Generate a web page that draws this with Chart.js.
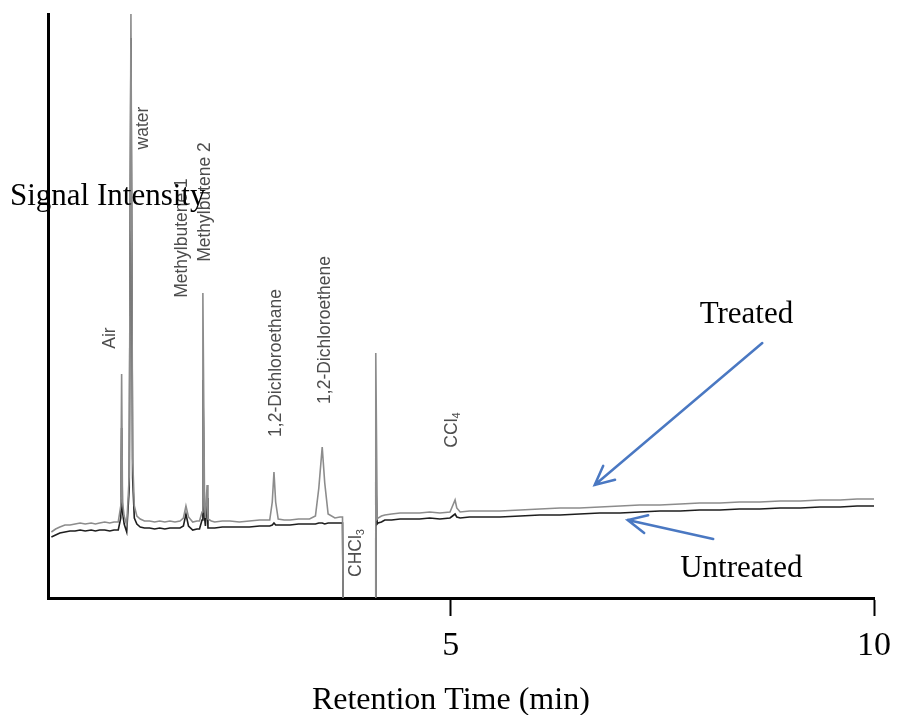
<!DOCTYPE html>
<html>
<head>
<meta charset="utf-8">
<title>Chromatogram</title>
<script src="https://cdn.jsdelivr.net/npm/chart.js"></script>
<style>
  html, body { margin: 0; padding: 0; background: #fff; }
  canvas { display: block; }
</style>
</head>
<body>
<canvas id="chart" width="897" height="715"></canvas>
<script>
// retention time (min), shared by both traces
const retentionTime = [
  0.28, 0.33, 0.38, 0.44, 0.50, 0.56, 0.62, 0.68, 0.75, 0.80,
  0.85, 0.91, 0.97, 1.02, 1.07, 1.10, 1.11, 1.12, 1.14, 1.17,
  1.20, 1.22, 1.24, 1.26, 1.29, 1.33, 1.38, 1.44, 1.50, 1.56,
  1.62, 1.68, 1.74, 1.80, 1.84, 1.87, 1.90, 1.95, 2.00, 2.03,
  2.06, 2.07, 2.09, 2.10, 2.12, 2.13, 2.17, 2.21, 2.30, 2.39,
  2.50, 2.62, 2.74, 2.86, 2.89, 2.91, 2.93, 2.96, 3.03, 3.10,
  3.20, 3.33, 3.40, 3.44, 3.48, 3.51, 3.55, 3.63, 3.69, 3.72,
  3.73, 4.11, 4.113, 4.13, 4.14, 4.18, 4.22, 4.30, 4.40, 4.50,
  4.63, 4.75, 4.87, 4.99, 5.02, 5.05, 5.07, 5.11, 5.22, 5.34,
  5.58, 5.82, 6.05, 6.29, 6.52, 6.76, 7.00, 7.23, 7.47, 7.71,
  7.94, 8.18, 8.41, 8.65, 8.89, 9.13, 9.36, 9.60, 9.80, 10.0
];

// signal (arbitrary units), grey trace
const treatedSignal = [
  66, 69, 71, 73, 73, 74, 75, 74, 75, 74,
  75, 76, 75, 76, 76, 92, 224, 96, 82, 73,
  122, 584, 140, 92, 82, 79, 77, 77, 76, 77,
  76, 77, 76, 77, 80, 92, 81, 76, 77, 77,
  86, 305, 92, 80, 113, 79, 77, 76, 77, 77,
  76, 77, 78, 78, 96, 126, 96, 79, 78, 78,
  79, 79, 82, 110, 151, 115, 84, 80, 81, 81,
  -50, -50, 245, 79, 80, 82, 83, 84, 85, 85,
  85, 86, 85, 86, 92, 98, 90, 86, 87, 87,
  87, 88, 89, 90, 90, 91, 92, 93, 93, 94,
  95, 95, 96, 96, 97, 97, 98, 98, 99, 99
];

// signal (arbitrary units), black trace
const untreatedSignal = [
  61, 63, 65, 66, 67, 67, 68, 67, 68, 67,
  68, 68, 67, 68, 68, 80, 170, 86, 74, 66,
  110, 560, 120, 80, 74, 71, 70, 70, 69, 70,
  69, 70, 70, 70, 72, 84, 72, 68, 69, 69,
  78, 218, 80, 72, 100, 70, 70, 70, 71, 71,
  71, 71, 72, 72, 73, 75, 73, 73, 73, 73,
  74, 74, 74, 75, 75, 74, 75, 75, 75, 75,
  -50, -50, 116, 74, 75, 76, 78, 78, 79, 79,
  79, 80, 79, 80, 82, 84, 81, 80, 81, 81,
  81, 82, 83, 83, 84, 85, 85, 86, 87, 87,
  88, 88, 89, 89, 90, 90, 91, 91, 92, 92
];

const xTicks = [5, 10];

// peak names, placed by (time, signal) of the label centre
const peakLabels = [
  { text: 'Air', t: 0.97, s: 260 },
  { text: 'water', t: 1.37, s: 470 },
  { text: 'Methylbutene 1', t: 1.83, s: 360 },
  { text: 'Methylbutene 2', t: 2.10, s: 396 },
  { text: '1,2-Dichloroethane', t: 2.94, s: 235 },
  { text: '1,2-Dichloroethene', t: 3.52, s: 268 },
  { text: 'CHCl', sub: '3', t: 3.88, s: 45 },
  { text: 'CCl', sub: '4', t: 5.01, s: 168 }
];

const serif = '"Liberation Serif", "Times New Roman", serif';
const sans = '"Liberation Sans", Arial, sans-serif';
const arrowBlue = '#4a78c2';

function pts(ys) {
  return retentionTime.map((t, i) => ({ x: t, y: ys[i] }));
}

function arrow(ctx, x0, y0, x1, y1) {
  const a = Math.atan2(y1 - y0, x1 - x0);
  const len = 21, spread = 0.45;
  ctx.beginPath();
  ctx.moveTo(x0, y0);
  ctx.lineTo(x1, y1);
  ctx.moveTo(x1 - len * Math.cos(a - spread), y1 - len * Math.sin(a - spread));
  ctx.lineTo(x1, y1);
  ctx.lineTo(x1 - len * Math.cos(a + spread), y1 - len * Math.sin(a + spread));
  ctx.stroke();
}

const annotations = {
  id: 'annotations',
  afterDraw(chart) {
    const ctx = chart.ctx;
    const xs = chart.scales.x, ys = chart.scales.y;
    const area = chart.chartArea;
    ctx.save();

    // peak labels, rotated
    ctx.fillStyle = '#4d4d4d';
    peakLabels.forEach(p => {
      ctx.save();
      ctx.translate(xs.getPixelForValue(p.t), ys.getPixelForValue(p.s));
      ctx.rotate(-Math.PI / 2);
      ctx.textBaseline = 'middle';
      ctx.textAlign = 'left';
      ctx.font = '17.5px ' + sans;
      const w = ctx.measureText(p.text).width;
      let ws = 0;
      if (p.sub) {
        ctx.font = '11px ' + sans;
        ws = ctx.measureText(p.sub).width;
      }
      const start = -(w + ws) / 2;
      ctx.font = '17.5px ' + sans;
      ctx.fillText(p.text, start, 0);
      if (p.sub) {
        ctx.font = '11px ' + sans;
        ctx.fillText(p.sub, start + w, 5);
      }
      ctx.restore();
    });

    // arrows
    ctx.strokeStyle = arrowBlue;
    ctx.lineWidth = 2.5;
    ctx.lineCap = 'round';
    arrow(ctx, xs.getPixelForValue(8.68), ys.getPixelForValue(255),
               xs.getPixelForValue(6.70), ys.getPixelForValue(113));
    arrow(ctx, xs.getPixelForValue(8.10), ys.getPixelForValue(59),
               xs.getPixelForValue(7.09), ys.getPixelForValue(78));

    // series names and axis titles
    ctx.fillStyle = '#000';
    ctx.font = '31px ' + serif;
    ctx.textBaseline = 'alphabetic';
    ctx.textAlign = 'left';
    ctx.fillText('Treated', xs.getPixelForValue(7.94), ys.getPixelForValue(275));
    ctx.fillText('Untreated', xs.getPixelForValue(7.71), ys.getPixelForValue(21));
    ctx.fillText('Signal Intensity', area.left - 38, area.top + 191);

    ctx.font = '32px ' + serif;
    ctx.textAlign = 'center';
    ctx.fillText('Retention Time (min)', xs.getPixelForValue(5), area.bottom + 111);
    ctx.restore();
  }
};

new Chart(document.getElementById('chart'), {
  type: 'line',
  data: {
    datasets: [
      {
        label: 'Treated',
        data: pts(treatedSignal),
        borderColor: '#8c8c8c',
        borderWidth: 1.6,
        pointRadius: 0,
        tension: 0
      },
      {
        label: 'Untreated',
        data: pts(untreatedSignal),
        borderColor: '#1e1e1e',
        borderWidth: 1.6,
        pointRadius: 0,
        tension: 0
      }
    ]
  },
  options: {
    responsive: false,
    animation: false,
    layout: { padding: { top: 14, right: 23, left: 0, bottom: 0 } },
    plugins: { legend: { display: false }, tooltip: { enabled: false } },
    scales: {
      x: {
        type: 'linear',
        min: 0.24,
        max: 10,
        afterBuildTicks: s => { s.ticks = xTicks.map(v => ({ value: v })); },
        afterFit: s => { s.height = 117; s.paddingLeft = 0; s.paddingRight = 0; },
        border: { display: true, color: '#000', width: 3 },
        grid: { drawOnChartArea: false, drawTicks: true, tickLength: 18, tickWidth: 2, color: '#000' },
        ticks: { color: '#000', padding: 10, font: { family: serif, size: 34 }, maxRotation: 0 }
      },
      y: {
        min: 0,
        max: 584,
        afterFit: s => { s.width = 48; },
        border: { display: true, color: '#000', width: 3 },
        grid: { display: false },
        ticks: { display: false }
      }
    }
  },
  plugins: [annotations]
});
</script>
</body>
</html>
